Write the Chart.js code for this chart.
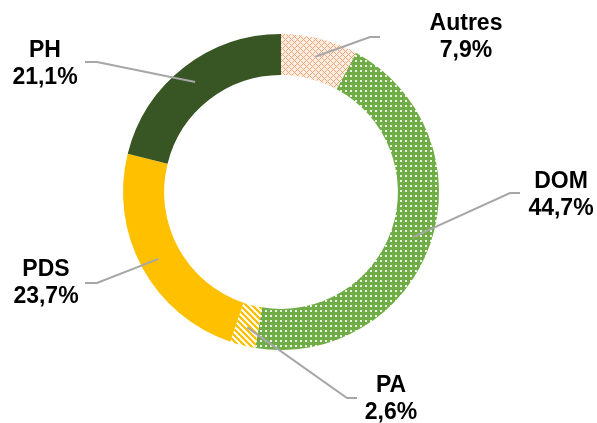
<!DOCTYPE html>
<html lang="fr">
<head>
<meta charset="utf-8">
<title>Répartition</title>
<script src="https://cdn.jsdelivr.net/npm/chart.js@4/dist/chart.umd.min.js"></script>
<style>
  html, body { margin: 0; padding: 0; background: #fff; }
  #wrap { width: 597px; height: 423px; }
</style>
</head>
<body>
<div id="wrap"><canvas id="shareChart" width="597" height="423"></canvas></div>
<script>
const categories = ["Autres", "DOM", "PA", "PDS", "PH"];
const shares = [7.9, 44.7, 2.6, 23.7, 21.1];

// where each label sits, relative to the ring centre
const labelLayout = [
  { text: [185, -155], lineEnd: [99, -155] },
  { text: [280, 3], lineEnd: [239, 1] },
  { text: [110, 207], lineEnd: [76, 206] },
  { text: [-235, 91], lineEnd: [-196, 91] },
  { text: [-236, -128], lineEnd: [-196, -130] },
];

function makePattern(size, paint) {
  const c = document.createElement("canvas");
  c.width = size;
  c.height = size;
  const ctx = c.getContext("2d");
  const img = ctx.createImageData(size, size);
  for (let y = 0; y < size; y++) {
    for (let x = 0; x < size; x++) {
      const rgb = paint(x, y);
      const i = (y * size + x) * 4;
      img.data[i] = rgb[0];
      img.data[i + 1] = rgb[1];
      img.data[i + 2] = rgb[2];
      img.data[i + 3] = 255;
    }
  }
  ctx.putImageData(img, 0, 0);
  return ctx.createPattern(c, "repeat");
}

const autresFill = makePattern(6, (x, y) =>
  (x + y) % 6 === 0 || (x - y + 6) % 6 === 0 ? [242, 165, 120] : [253, 238, 228]
);
const domFill = makePattern(5, (x, y) =>
  x < 2 && y < 2 ? [236, 246, 228] : [112, 173, 71]
);
const paFill = makePattern(6, (x, y) =>
  (x - y + 12) % 6 < 3 ? [255, 192, 0] : [255, 250, 235]
);

const calloutPlugin = {
  id: "callouts",
  afterDatasetsDraw(chart, args, opts) {
    const ctx = chart.ctx;
    const meta = chart.getDatasetMeta(0);
    ctx.save();
    meta.data.forEach((arc, i) => {
      const p = arc.getProps(["x", "y", "startAngle", "endAngle", "innerRadius", "outerRadius"], true);
      const mid = (p.startAngle + p.endAngle) / 2;
      const r = p.innerRadius + (p.outerRadius - p.innerRadius) * 0.55;
      const ax = p.x + Math.cos(mid) * r;
      const ay = p.y + Math.sin(mid) * r;
      const lay = opts.layout[i];
      const ex = p.x + lay.lineEnd[0];
      const ey = p.y + lay.lineEnd[1];
      const bx = ex + (lay.lineEnd[0] > 0 ? -10 : 12);

      ctx.strokeStyle = "#a6a6a6";
      ctx.lineWidth = 2;
      ctx.beginPath();
      ctx.moveTo(ax, ay);
      ctx.lineTo(bx, ey);
      ctx.lineTo(ex, ey);
      ctx.stroke();

      const tx = p.x + lay.text[0];
      const ty = p.y + lay.text[1];
      const value = chart.data.datasets[0].data[i];
      ctx.fillStyle = "#000";
      ctx.font = "bold 23px 'Liberation Sans', Arial, sans-serif";
      ctx.textAlign = "center";
      ctx.textBaseline = "middle";
      ctx.fillText(chart.data.labels[i], tx, ty - 13);
      ctx.fillText(value.toFixed(1).replace(".", ",") + "%", tx, ty + 14);
    });
    ctx.restore();
  },
};

new Chart(document.getElementById("shareChart"), {
  type: "doughnut",
  data: {
    labels: categories,
    datasets: [
      {
        data: shares,
        backgroundColor: [autresFill, domFill, paFill, "#ffc000", "#375623"],
        borderWidth: 0,
      },
    ],
  },
  options: {
    responsive: false,
    animation: false,
    cutout: "74%",
    layout: { padding: { left: 123, right: 158, top: 34, bottom: 73 } },
    plugins: {
      legend: { display: false },
      tooltip: { enabled: false },
      callouts: { layout: labelLayout },
    },
  },
  plugins: [calloutPlugin],
});
</script>
</body>
</html>
